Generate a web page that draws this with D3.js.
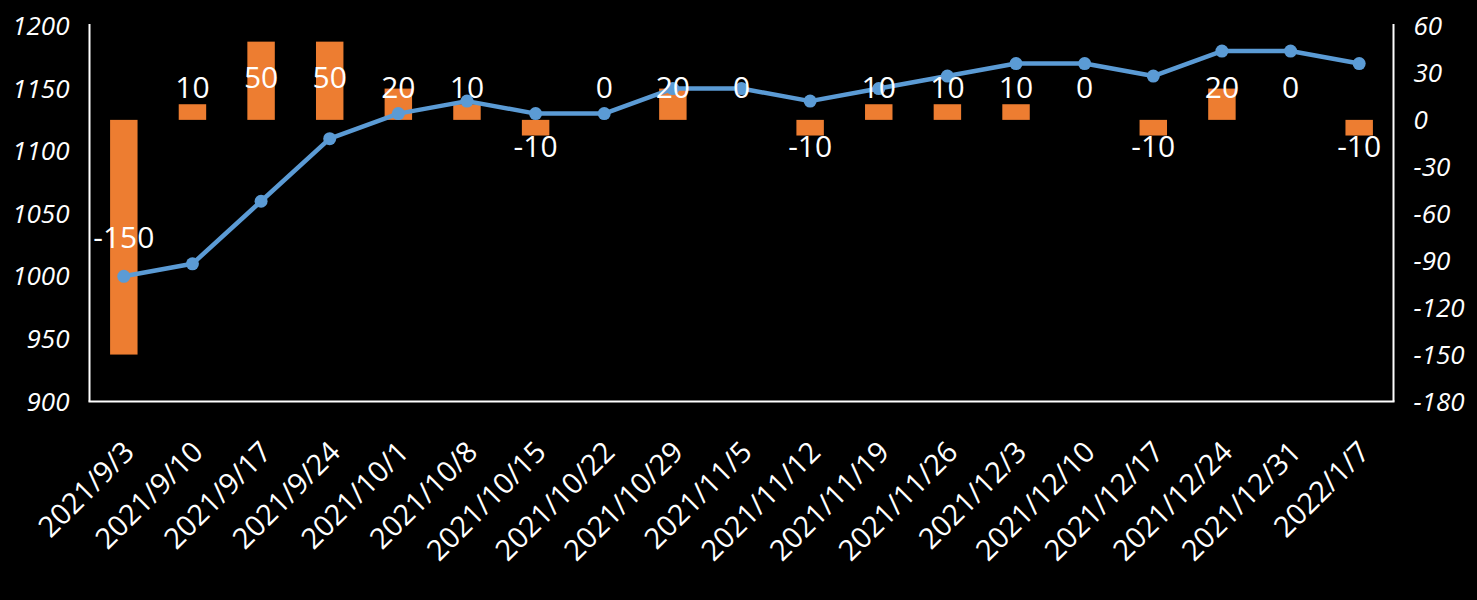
<!DOCTYPE html>
<html><head><meta charset="utf-8">
<script src="https://cdn.jsdelivr.net/npm/d3@7"></script>
<style>
html,body{margin:0;padding:0;background:#000;}
svg{display:block;}
</style>
</head><body>
<svg id="chart" width="1477" height="600"></svg>
<script>
const categories = ["2021/9/3","2021/9/10","2021/9/17","2021/9/24","2021/10/1","2021/10/8","2021/10/15","2021/10/22","2021/10/29","2021/11/5","2021/11/12","2021/11/19","2021/11/26","2021/12/3","2021/12/10","2021/12/17","2021/12/24","2021/12/31","2022/1/7"];
const lineValues = [1000,1010,1060,1110,1130,1140,1130,1130,1150,1150,1140,1150,1160,1170,1170,1160,1180,1180,1170];
const barValues = [-150,10,50,50,20,10,-10,0,20,0,-10,10,10,10,0,-10,20,0,-10];
const leftTicks = [900,950,1000,1050,1100,1150,1200];
const rightTicks = [-180,-150,-120,-90,-60,-30,0,30,60];

const svg = d3.select("#chart");
const W = 1477, H = 600;
svg.append("rect").attr("width",W).attr("height",H).attr("fill","#000");

const pLeft = 89.5, pRight = 1393.5, pTop = 26, pBottom = 401.5;
const x = d3.scaleBand().domain(categories).range([pLeft, pRight]).paddingInner(0).paddingOuter(0);
const yL = d3.scaleLinear().domain([900,1200]).range([pBottom, pTop]);
const yR = d3.scaleLinear().domain([-180,60]).range([pBottom, pTop]);

const tickFont = "'Open Sans', sans-serif";

// bars
const barW = x.bandwidth()*0.4;
svg.append("g").selectAll("rect").data(barValues).join("rect")
  .attr("x",(d,i)=>x(categories[i]) + x.bandwidth()/2 - barW/2)
  .attr("width",barW)
  .attr("y",d=>Math.min(yR(d), yR(0)))
  .attr("height",d=>Math.abs(yR(d)-yR(0)))
  .attr("fill","#ED7D31");

// axes lines
const axisG = svg.append("g");
axisG.append("line").attr("x1",pLeft).attr("x2",pLeft).attr("y1",pTop-2).attr("y2",pBottom).attr("stroke","#fff").attr("stroke-width",2);
axisG.append("line").attr("x1",pRight).attr("x2",pRight).attr("y1",pTop-2).attr("y2",pBottom).attr("stroke","#fff").attr("stroke-width",2);
axisG.append("line").attr("x1",pLeft-1).attr("x2",pRight+1).attr("y1",pBottom).attr("y2",pBottom).attr("stroke","#fff").attr("stroke-width",2);

// left ticks
svg.append("g").selectAll("text").data(leftTicks).join("text")
  .attr("x",pLeft-20).attr("y",d=>yL(d)).attr("dy","0.35em")
  .attr("text-anchor","end").attr("fill","#fff")
  .attr("font-family",tickFont).attr("font-style","italic").attr("font-size",26)
  .text(d=>d);
// right ticks
svg.append("g").selectAll("text").data(rightTicks).join("text")
  .attr("x",pRight+20).attr("y",d=>yR(d)).attr("dy","0.35em")
  .attr("text-anchor","start").attr("fill","#fff")
  .attr("font-family",tickFont).attr("font-style","italic").attr("font-size",26)
  .text(d=>d);

// x labels
svg.append("g").selectAll("text").data(categories).join("text")
  .attr("transform",d=>`translate(${x(d)+x.bandwidth()/2+5},${pBottom+45}) rotate(-45)`)
  .attr("text-anchor","end").attr("dy","0.35em").attr("fill","#fff")
  .attr("font-family",tickFont).attr("font-size",29)
  .text(d=>d);

// line
const line = d3.line().x((d,i)=>x(categories[i])+x.bandwidth()/2).y(d=>yL(d));
svg.append("path").datum(lineValues).attr("d",line).attr("fill","none")
  .attr("stroke","#5B9BD5").attr("stroke-width",4.5).attr("stroke-linejoin","round");
svg.append("g").selectAll("circle").data(lineValues).join("circle")
  .attr("cx",(d,i)=>x(categories[i])+x.bandwidth()/2).attr("cy",d=>yL(d)).attr("r",6.5)
  .attr("fill","#5B9BD5");

// bar labels
function labelY(v){
  const h = Math.abs(yR(v)-yR(0));
  if (h > 60) return (yR(v)+yR(0))/2 - (v>0?3:0);
  if (v >= 0) return yR(20) - 1;
  return yR(v) + 11;
}
svg.append("g").selectAll("text").data(barValues).join("text")
  .attr("x",(d,i)=>x(categories[i])+x.bandwidth()/2)
  .attr("y",d=>labelY(d)).attr("dy","0.35em")
  .attr("text-anchor","middle").attr("fill","#fff")
  .attr("font-family",tickFont).attr("font-size",30)
  .text(d=>d);
</script>
</body></html>
